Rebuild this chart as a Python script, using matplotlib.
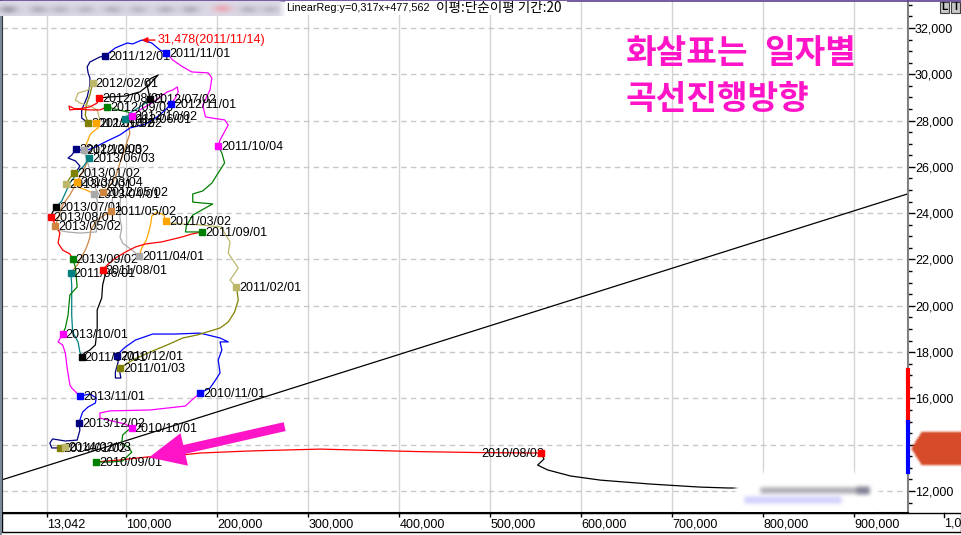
import numpy as np
import matplotlib
matplotlib.use('Agg')
import matplotlib.pyplot as plt
from matplotlib.patches import FancyArrowPatch, Rectangle
from matplotlib.lines import Line2D
from matplotlib.ticker import MultipleLocator, FixedLocator, FuncFormatter

W, H = 961, 535

# 월별 경로: 거래량(천주), 가격(원). 각 구간의 첫 점이 그 달 첫 거래일
month_dates = ['2010/07/01', '2010/08/02', '2010/09/01', '2010/10/01', '2010/11/01', '2010/12/01',
               '2011/01/03', '2011/02/01', '2011/03/02', '2011/04/01', '2011/05/02', '2011/06/01',
               '2011/07/01', '2011/08/01', '2011/09/01', '2011/10/04', '2011/11/01', '2011/12/01',
               '2012/01/02', '2012/02/01', '2012/03/02', '2012/04/02', '2012/05/02', '2012/06/01',
               '2012/07/02', '2012/08/01', '2012/09/03', '2012/10/02', '2012/11/01', '2012/12/03',
               '2013/01/02', '2013/02/01', '2013/03/04', '2013/04/01', '2013/05/02', '2013/06/03',
               '2013/07/01', '2013/08/01', '2013/09/02', '2013/10/01', '2013/11/01', '2013/12/02',
               '2014/01/02', '2014/02/03']

path_vol = [
    [912, 840, 761, 730, 676, 621, 588, 563, 552, 559],
    [556, 489, 423, 313, 236, 181, 159, 123, 93, 71],
    [67, 82, 96, 106, 102, 95, 96, 102],
    [106, 99, 71, 71, 82, 126, 165, 172],
    [181, 192, 198, 203, 201, 205, 203, 212, 203, 181, 154, 129, 110, 99, 93],
    [90, 91, 88, 88, 94, 93],
    [93, 107, 126, 145, 162, 178, 203, 212, 219, 223, 222],
    [221, 214, 223, 212, 214, 208, 205, 183, 162, 148],
    [144, 141, 134, 128, 127, 125, 122, 117],
    [114, 106, 96, 93, 95, 93, 93, 94, 91, 85],
    [83, 78, 71, 66, 61, 60, 58, 55, 50, 47],
    [39, 40, 40, 40, 41, 47, 49],
    [51, 54, 60, 66, 68, 68, 73, 74, 77],
    [74, 79, 88, 99, 110, 121, 139, 161, 172],
    [183, 165, 166, 173, 195, 183, 173, 173, 184, 194, 201, 208, 205],
    [201, 203, 212, 208, 194, 187, 184, 192, 194, 190, 172, 162, 151, 146],
    [144, 137, 128, 121, 117, 107, 101, 96, 88, 82],
    [77, 71, 60, 57, 58, 60, 60, 57, 51, 51],
    [58, 55, 56, 60],
    [63, 58, 47, 44, 49, 60, 68, 71],
    [67, 69, 63, 60, 58, 55],
    [53, 56, 60, 63, 67, 71],
    [74, 79, 88, 93, 99, 104, 102],
    [99, 104, 113, 121],
    [126, 124, 122, 128, 135, 126, 115, 99, 82],
    [70, 68, 60, 47, 38, 37, 44, 60, 71],
    [79, 91, 102],
    [106, 115, 128, 137, 145, 151, 156, 157, 154],
    [149, 143, 134, 121, 104, 93, 77, 66, 55],
    [45, 40, 36, 44, 49, 45],
    [43, 38],
    [34, 40],
    [46, 49, 56],
    [65, 68, 68, 67, 49, 35, 25],
    [22, 25, 30, 38, 47, 54],
    [59, 54, 47, 38, 33, 29],
    [23, 19],
    [17, 22, 27, 25, 30, 38],
    [41, 44, 46, 38, 36, 33],
    [30, 25, 30, 33, 35, 38, 40],
    [49, 60, 67, 66, 58, 52, 49],
    [48, 49, 46, 33, 19, 16, 18],
    [27, 30],
    [33, 35],
]

path_price = [
    [12040, 12120, 12130, 12170, 12300, 12470, 12650, 12910, 13120, 13380],
    [13640, 13660, 13700, 13810, 13730, 13640, 13550, 13470, 13340, 13270],
    [13250, 13250, 13300, 13680, 13900, 14070, 14420, 14630],
    [14720, 14890, 15150, 15370, 15460, 15500, 15670, 15930],
    [16230, 16450, 16790, 17100, 17660, 18090, 18440, 18440, 18610, 18820, 18780, 18780, 18520, 18220, 18000],
    [17830, 17570, 17140, 16880, 16880, 17100],
    [17310, 17660, 18000, 18310, 18610, 18740, 19040, 19300, 19730, 20250, 20550],
    [20810, 21110, 21630, 22280, 22760, 23140, 23400, 23490, 23530, 23580],
    [23660, 23920, 24050, 23880, 23580, 23230, 22840, 22500],
    [22150, 22410, 22710, 22970, 23360, 23790, 24350, 24790, 25000, 24660],
    [24100, 23970, 23790, 23620, 23270, 22970, 22710, 22410, 22060, 21810],
    [21420, 20900, 20250, 19600, 18870, 18440, 18000],
    [17790, 17960, 18090, 18310, 19040, 19820, 20340, 20900, 21370],
    [21550, 21760, 22060, 22320, 22540, 22670, 22760, 22970, 23100],
    [23190, 23190, 23450, 23920, 24400, 24440, 24480, 24830, 24960, 25300, 25740, 26170, 26600],
    [26900, 27160, 27810, 28030, 28110, 28160, 28670, 29320, 29840, 30060, 30100, 30320, 30620, 30830],
    [30920, 31050, 31350, 31440, 31478, 31310, 31350, 31270, 31140, 30960],
    [30790, 30750, 30530, 30320, 30060, 29840, 29540, 29020, 28460, 28110],
    [27900, 28240, 28670, 29110],
    [29620, 29320, 29190, 28890, 28760, 28630, 28460, 28030],
    [27900, 27680, 27510, 27380, 27160, 26900],
    [26730, 26380, 25870, 25430, 25000, 24740],
    [24920, 25000, 25560, 26170, 26860, 27460, 27810],
    [28070, 28330, 28540, 28760],
    [28930, 29320, 29670, 29840, 29970, 29580, 29240, 29060, 29020],
    [28980, 28760, 28590, 28500, 28460, 28630, 28500, 28460, 28460],
    [28590, 28460, 28370],
    [28200, 28460, 28760, 29020, 29240, 29320, 29450, 29240, 28980],
    [28720, 28460, 28160, 27850, 27680, 27380, 27080, 26860, 26690],
    [26770, 26510, 26380, 26260, 26040, 25780],
    [25740, 25520],
    [25260, 25180],
    [25350, 25090, 25000],
    [24830, 24570, 23790, 23190, 23140, 23190, 23270],
    [23450, 23790, 24350, 24790, 25430, 25950],
    [26380, 26080, 25780, 25300, 24870, 24530],
    [24270, 24050],
    [23840, 23530, 23140, 22710, 22410, 22240],
    [22020, 21680, 20810, 20470, 19600, 19040],
    [18780, 18440, 18310, 17960, 17310, 16580, 16450],
    [16100, 16190, 16020, 15800, 15630, 15410, 15070],
    [14940, 14630, 14200, 14160, 14250, 14070, 13860],
    [13860, 13860],
    [13900, 13880],
]

peak_date = '2011/11/14'

# 선형회귀선 (가격 = 절편 + 기울기 * 거래량)
reg_intercept = 12937
reg_slope = 0.01241

x_ticks = [13042, 100000, 200000, 300000, 400000, 500000, 600000, 700000, 800000, 900000]
y_ticks = [12000, 14000, 16000, 18000, 20000, 22000, 24000, 26000, 28000, 30000, 32000]

# 가격축 위 색 막대
bar_red = (14980, 17230)
bar_blue = (12820, 14980)

month_colors = {1: '#808000', 2: '#BDB76B', 3: '#FFA500', 4: '#A9A9A9', 5: '#CD853F', 6: '#008080',
                7: '#000000', 8: '#FF0000', 9: '#008000', 10: '#FF00FF', 11: '#0000FF', 12: '#000080'}

SANS = ['Liberation Sans', 'DejaVu Sans']
FS = 9
PINK = '#FF14C8'


def soften(a, r, n=3):
    p = r * n
    a = np.pad(a, p, mode='edge')
    k = np.ones(r) / r
    for _ in range(n):
        a = np.apply_along_axis(np.convolve, 0, a, k, mode='same')
        a = np.apply_along_axis(np.convolve, 1, a, k, mode='same')
    return a[p:-p, p:-p]


fig = plt.figure(figsize=(W / 100, H / 100), dpi=100)
fig.patch.set_facecolor('white')


def px_axes(x0, y0, x1, y1, z):
    a = fig.add_axes([x0 / W, 1 - y1 / H, (x1 - x0) / W, (y1 - y0) / H], zorder=z)
    a.axis('off')
    return a


ax = fig.add_axes([2 / W, 1 - 513 / H, 906 / W, 512 / H])
ax.set_xlim(-36600, 959000)
ax.set_ylim(11050, 33165)

# 격자
for xv in x_ticks:
    ax.axvline(xv, color='#D4D4D4', lw=1, zorder=0)
for yv in y_ticks:
    ax.axhline(yv, color='#C8C8C8', lw=1, ls=(0, (4, 3)), zorder=0)

# 회귀선
xl = np.array(ax.get_xlim())
ax.plot(xl, reg_intercept + reg_slope * xl, color='black', lw=0.9, zorder=1.5)

# 경로
n = len(path_vol)
for i in range(n):
    c = month_colors[int(month_dates[i][5:7])]
    xs = list(path_vol[i])
    ys = list(path_price[i])
    if i + 1 < n:
        xs.append(path_vol[i + 1][0])
        ys.append(path_price[i + 1][0])
    ax.plot(np.array(xs) * 1000, ys, color=c, lw=0.9, zorder=2)
    if i == 0:
        continue
    mx, my = path_vol[i][0] * 1000, path_price[i][0]
    ax.plot(mx, my, 's', color=c, ms=5, zorder=4)
    ha = 'right' if i == 1 else 'left'
    ax.annotate(month_dates[i], (mx, my), xytext=(3, -1), textcoords='offset pixels',
                ha=ha, va='center', fontsize=FS, family=SANS, zorder=3)

# 최고가
all_v = np.concatenate([np.array(v) for v in path_vol]) * 1000
all_p = np.concatenate([np.array(p) for p in path_price])
k = int(np.argmax(all_p))
ax.annotate(f'{all_p[k]:,}({peak_date})', (all_v[k], all_p[k]), xytext=(16, 0),
            textcoords='offset pixels', ha='left', va='center', fontsize=FS, family=SANS,
            color='#FF0000', zorder=5,
            arrowprops=dict(arrowstyle='-|>', color='#FF0000', lw=1, mutation_scale=8,
                            shrinkA=0, shrinkB=0))

# 분홍 화살표와 설명
arr = FancyArrowPatch((277000, 14807), (122000, 13424),
                      arrowstyle='simple,head_length=2.6,head_width=2.4,tail_width=0.65',
                      mutation_scale=10, color=PINK, lw=0, zorder=5)
ax.add_patch(arr)
fig.text(626 / W, 1 - 53 / H, '화살표는', family='Noto Sans CJK KR', weight='bold',
         fontsize=24, color=PINK, ha='left', va='center')
fig.text(764 / W, 1 - 53 / H, '일자별', family='Noto Sans CJK KR', weight='bold',
         fontsize=24, color=PINK, ha='left', va='center')
fig.text(626 / W, 1 - 99 / H, '곡선진행방향', family='Noto Sans CJK KR', weight='bold',
         fontsize=24, color=PINK, ha='left', va='center')

# 축
ax.yaxis.tick_right()
ax.yaxis.set_major_locator(FixedLocator(y_ticks))
ax.yaxis.set_minor_locator(MultipleLocator(500))
ax.yaxis.set_major_formatter(FuncFormatter(lambda v, p: f'{v:,.0f}'))
ax.xaxis.set_major_locator(FixedLocator(x_ticks))
ax.xaxis.set_major_formatter(FuncFormatter(lambda v, p: f'{v:,.0f}'))
ax.tick_params(axis='y', which='major', length=5, width=1, pad=0, labelsize=FS)
ax.tick_params(axis='y', which='minor', length=3, width=1)
ax.tick_params(axis='x', length=3, width=1, pad=1, labelsize=FS)
for lab in ax.get_xticklabels() + ax.get_yticklabels():
    lab.set_family(SANS)
for lab in ax.get_xticklabels():
    lab.set_ha('left')
ax.spines['top'].set_visible(False)
ax.spines['right'].set_color('#808080')
ax.spines['right'].set_linewidth(1.5)
ax.spines['left'].set_color('#303030')
ax.spines['bottom'].set_linewidth(1.5)

yt = ax.get_yaxis_transform()
ax.plot([1, 1], bar_red, color='#FF0000', lw=3, transform=yt, clip_on=False, zorder=6)
ax.plot([1, 1], bar_blue, color='#0000FF', lw=3, transform=yt, clip_on=False, zorder=6)

# 잘린 눈금 (그림 오른쪽 끝에서 잘림)
fig.add_artist(Line2D([943.5 / W] * 2, [1 - 513 / H, 1 - 517 / H], color='black', lw=1))
fig.text(944 / W, 1 - 523 / H, '1,0', ha='left', va='center', fontsize=FS, family=SANS)

# 테두리
fig.add_artist(Rectangle((2 / W, 1 - 532 / H), (W - 2) / W, 19 / H, transform=fig.transFigure,
                         fill=False, ec='black', lw=1))
fig.add_artist(Line2D([0.6 / W] * 2, [0, 1], color='#7A8899', lw=1.5))
fig.add_artist(Line2D([0, 1], [1 - 0.6 / H] * 2, color='#5C3D8F', lw=1.2))

# 상단 범례 글
fig.add_artist(Rectangle((285 / W, 1 - 15 / H), 282 / W, 14 / H, transform=fig.transFigure,
                         fc='white', ec='none', zorder=4))
fig.text(286 / W, 1 - 8 / H, 'LinearReg:y=0,317x+477,562', family=SANS,
         fontsize=7.8, ha='left', va='center', zorder=5)
fig.text(436 / W, 1 - 8 / H, '이평:단순이평 기간:20', family=['Noto Sans CJK KR', 'DejaVu Sans'],
         fontsize=9.8, ha='left', va='center', zorder=5)

# L / I 버튼
for bx, t in [(940, 'L'), (951, 'I')]:
    fig.add_artist(Rectangle((bx / W, 1 - 13 / H), 9 / W, 11 / H, transform=fig.transFigure,
                             fc='#C8C8C8', ec='#404040', lw=0.8))
    fig.text((bx + 4.5) / W, 1 - 7.5 / H, t, ha='center', va='center', fontsize=7.5,
             family=SANS, weight='bold')

# 흐림 처리: 상단 왼쪽
hh, ww = 15, 286
yy, xx = np.mgrid[0:hh, 0:ww]
rgb = np.ones((hh, ww, 3)) * np.array([0.86, 0.85, 0.9])
for cx, s in [(8, 0.5), (38, 0.35), (60, 0.3), (85, 0.28), (112, 0.32), (138, 0.28),
              (165, 0.32), (190, 0.35), (248, 0.3), (270, 0.26)]:
    g = s * np.exp(-((xx - cx) / 9.0) ** 2 - ((yy - 8) / 4.0) ** 2)
    rgb = rgb * (1 - g[..., None]) + np.array([0.45, 0.43, 0.5]) * g[..., None]
g = 0.6 * np.exp(-((xx - 222) / 9.0) ** 2 - ((yy - 7) / 4.0) ** 2)
rgb = rgb * (1 - g[..., None]) + np.array([0.95, 0.55, 0.6]) * g[..., None]
alpha = np.clip((ww - xx) / 8.0, 0, 1)
px_axes(0, 1, 286, 16, 5).imshow(np.dstack([rgb, alpha]), aspect='auto', interpolation='bilinear')

# 흐림 처리: 하단
hh, ww = 47, 156
yy, xx = np.mgrid[0:hh, 0:ww]
box = ((xx > 6) & (xx < ww - 6) & (yy > 5)).astype(float)
alpha = soften(box, 4)
rgb = np.ones((hh, ww, 3))
g = 0.55 * soften(((yy >= 21) & (yy <= 26) & (xx >= 32) & (xx <= 140)).astype(float), 4)
rgb = rgb * (1 - g[..., None]) + np.array([0.4, 0.4, 0.45]) * g[..., None]
g = 0.45 * soften(((yy >= 20) & (yy <= 27) & (xx >= 128) & (xx <= 140)).astype(float), 4)
rgb = rgb * (1 - g[..., None]) + np.array([0.3, 0.3, 0.45]) * g[..., None]
g = 0.45 * soften(((yy >= 30) & (yy <= 36) & (xx >= 16) & (xx <= 112)).astype(float), 4)
rgb = rgb * (1 - g[..., None]) + np.array([0.6, 0.6, 0.98]) * g[..., None]
px_axes(727, 465, 883, 512, 5).imshow(np.dstack([rgb, alpha]), aspect='auto',
                                       interpolation='bilinear')

# 흐림 처리: 현재가 표시
hh, ww = 48, 56
yy, xx = np.mgrid[0:hh, 0:ww]
shape = ((xx >= 6 + np.abs(yy - 24) / 1.6) & (np.abs(yy - 24) <= 16)).astype(float)
alpha = np.clip(soften(shape, 3, 2) * 1.1, 0, 1)
rgb = np.ones((hh, ww, 3)) * np.array([0.84, 0.3, 0.17])
px_axes(905, 424, 961, 472, 6).imshow(np.dstack([rgb, alpha]), aspect='auto',
                                       interpolation='bilinear')

fig.savefig('out.png', dpi=100)
